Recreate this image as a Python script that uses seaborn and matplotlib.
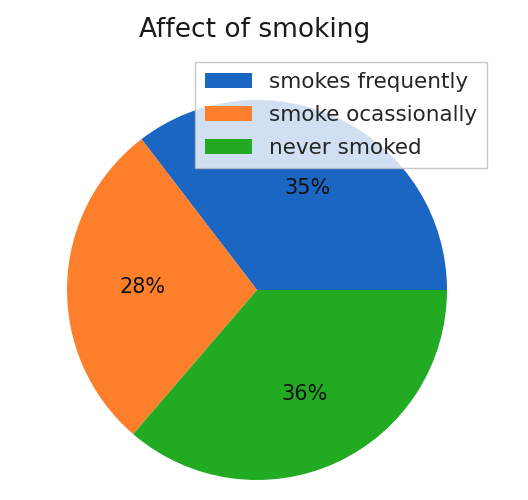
import matplotlib
matplotlib.use('Agg')
import matplotlib.pyplot as plt
import seaborn as sns

# data
labels = ['smokes frequently', 'smoke ocassionally', 'never smoked']
shares = [35.4, 28.3, 36.3]
colors = ['#1a66c2', '#fd7f2c', '#22ab22']

sns.set_style('white')
plt.rcParams['font.family'] = ['DejaVu Sans']

fig = plt.figure(figsize=(5.28, 5.0), dpi=100)
ax = fig.add_axes([67 / 528, 20 / 500, 380 / 528, 380 / 500])

wedges, texts, autotexts = ax.pie(shares, colors=colors, autopct='%.0f%%',
                                  startangle=0, pctdistance=0.6,
                                  wedgeprops={'linewidth': 0},
                                  textprops={'fontsize': 15, 'color': '#111111'})
ax.set_xlim(-1.0, 1.0)
ax.set_ylim(-1.0, 1.0)
ax.set_aspect('equal')

fig.text(255 / 528, 1 - 30 / 500, 'Affect of smoking', ha='center', va='center',
         fontsize=19, color='#1a1a1a')

ax.legend(wedges, labels, loc='upper right', bbox_to_anchor=(487 / 528, 1 - 62 / 500),
          bbox_transform=fig.transFigure, fontsize=15.5, handlelength=2.2,
          labelspacing=0.62, borderpad=0.45,
          frameon=True, framealpha=0.8, borderaxespad=0, fancybox=False,
          edgecolor='#bbbbbb')

fig.savefig('out.png', dpi=100)
